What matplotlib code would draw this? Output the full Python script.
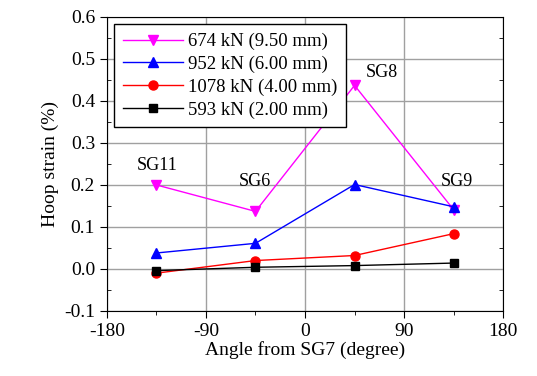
import matplotlib
matplotlib.use("Agg")
import matplotlib.pyplot as plt
from matplotlib.ticker import MultipleLocator

plt.rcParams['font.family'] = ['Liberation Serif', 'DejaVu Serif']
plt.rcParams['axes.unicode_minus'] = False

# gauge angles and hoop strains
angles = [-135, -45, 45, 135]
s674 = [0.200, 0.137, 0.437, 0.141]
s952 = [0.038, 0.061, 0.201, 0.148]
s1078 = [-0.010, 0.020, 0.032, 0.084]
s593 = [-0.004, 0.004, 0.008, 0.014]
gauge_names = ['SG11', 'SG6', 'SG8', 'SG9']
label_x = [-134, -46, 70, 138]
label_y = [0.247, 0.208, 0.467, 0.208]

fig = plt.figure(figsize=(5.37, 3.76), dpi=100)
ax = fig.add_axes([0.199, 0.173, 0.738, 0.782])

ax.plot(angles, s674, color='magenta', lw=1, marker='v', ms=7.5, label='674 kN (9.50 mm)')
ax.plot(angles, s952, color='blue', lw=1, marker='^', ms=7.5, label='952 kN (6.00 mm)')
ax.plot(angles, s1078, color='red', lw=1, marker='o', ms=6.5, label='1078 kN (4.00 mm)')
ax.plot(angles, s593, color='black', lw=1, marker='s', ms=5.5, label='593 kN (2.00 mm)')

for x, y, t in zip(label_x, label_y, gauge_names):
    ax.text(x, y, t, ha='center', va='center', fontsize=13)

ax.set_xlim(-180, 180)
ax.set_ylim(-0.1, 0.6)
ax.xaxis.set_major_locator(MultipleLocator(90))
ax.xaxis.set_minor_locator(MultipleLocator(45))
ax.yaxis.set_major_locator(MultipleLocator(0.1))
ax.yaxis.set_minor_locator(MultipleLocator(0.05))
ax.set_yticklabels(['%.1f' % v for v in ax.get_yticks()])
ax.grid(True, which='major', color='#a0a0a0', lw=1)
ax.set_axisbelow(True)
ax.tick_params(which='major', direction='out', length=5, labelsize=14)
ax.tick_params(axis='x', which='minor', direction='out', length=3)
ax.tick_params(axis='y', which='minor', direction='in', length=3, right=True)

ax.set_xlabel('Angle from SG7 (degree)', fontsize=14, labelpad=1)
ax.set_ylabel('Hoop strain (%)', fontsize=14)

leg = ax.legend(loc='upper left', fontsize=13.5, handlelength=3.2, fancybox=False,
                framealpha=1, edgecolor='black', borderpad=0.45, labelspacing=0.3,
                handletextpad=0.3, borderaxespad=0.4)
leg.get_frame().set_linewidth(1)

fig.savefig('out.png', dpi=100)
